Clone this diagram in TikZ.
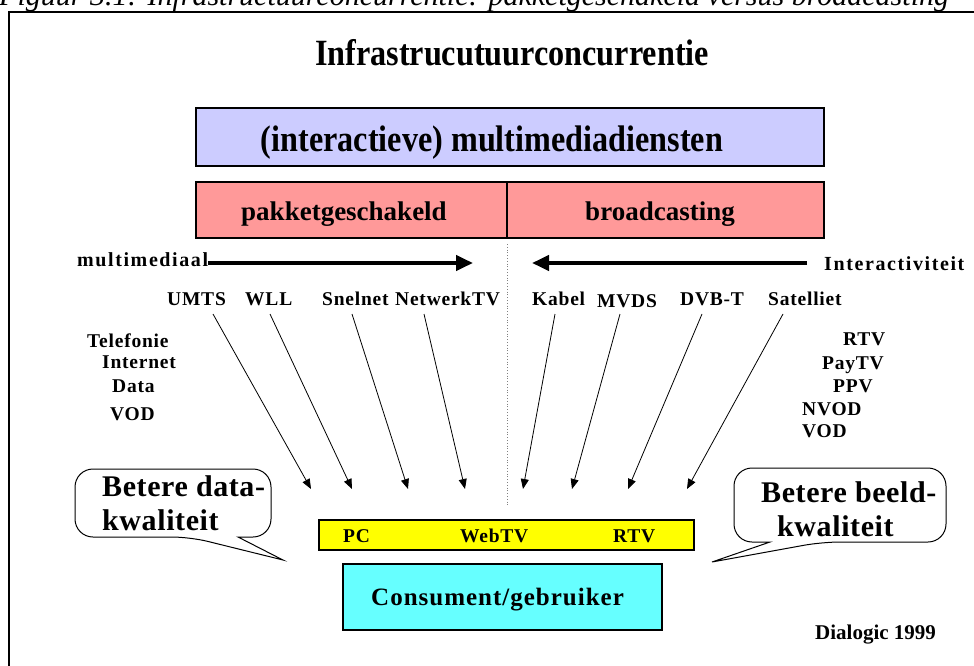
\documentclass[tikz,border=0pt]{standalone}
\usepackage{fontspec}
\setmainfont{Liberation Serif}
\newfontfamily\ruimfont[LetterSpace=4]{Liberation Serif}
\newfontfamily\breedfont[LetterSpace=8]{Liberation Serif}
\newfontfamily\ballonfont[LetterSpace=2]{Liberation Serif}
\usetikzlibrary{arrows.meta}
\definecolor{dienstblauw}{HTML}{CCCCFF}
\definecolor{netrood}{HTML}{FF9999}
\definecolor{apparaatgeel}{HTML}{FFFF00}
\definecolor{gebruikercyaan}{HTML}{66FFFF}
\tikzset{
  tekst/.style={inner sep=0pt, anchor=base west},
  label/.style={tekst, font=\ruimfont\bfseries\fontsize{19.5}{21}\selectfont},
  ballontekst/.style={tekst, font=\ballonfont\bfseries\fontsize{30}{32}\selectfont},
  blok/.style={draw, line width=1.2pt},
  dik/.style={line width=4pt, -{Triangle[length=17pt,width=15pt]}},
  dun/.style={line width=0.8pt, -{Triangle[length=10pt,width=8pt]}},
  ballon/.style={draw, fill=white, line width=1pt},
}
\begin{document}
\begin{tikzpicture}[x=1pt, y=-1pt]
    \useasboundingbox (0,0) rectangle (974,666);
    \begin{scope}
    \clip (0,0) rectangle (974,666);
    % kader en onderschrift
    \node[tekst, font=\itshape\fontsize{30}{32}\selectfont] (onderschrift) at (-1,6)
        {Figuur 3.1: Infrastructuurconcurrentie: pakketgeschakeld versus broadcasting};
    \draw[line width=2pt] (9,690) -- (9,12.5) -- (990,12.5);
    \end{scope}

    \node[inner sep=0pt, anchor=base, font=\bfseries\fontsize{37}{40}\selectfont] (titel) at (512,66)
        {\scalebox{0.87}[1]{Infrastrucutuurconcurrentie}};

    % diensten en netten
    \draw[blok, fill=dienstblauw] (196,108) rectangle (824,166);
    \node[inner sep=0pt, anchor=base, font=\bfseries\fontsize{37}{40}\selectfont] (diensten) at (492,151)
        {\scalebox{0.87}[1]{(interactieve) multimediadiensten}};

    \draw[blok, fill=netrood] (196,182) rectangle (507,238);
    \draw[blok, fill=netrood] (507,182) rectangle (824,238);
    \node[inner sep=0pt, anchor=base, font=\bfseries\fontsize{27}{30}\selectfont] (pakket) at (344,220) {pakketgeschakeld};
    \node[inner sep=0pt, anchor=base, font=\bfseries\fontsize{27}{30}\selectfont] (broad) at (660,220) {broadcasting};

    \draw[gray, dotted, line width=0.8pt] (507,244) -- (507,505);

    % richtingen
    \node[tekst, font=\breedfont\bfseries\fontsize{20}{22}\selectfont] (multimediaal) at (77,266) {multimediaal};
    \node[tekst, font=\breedfont\bfseries\fontsize{20}{22}\selectfont] (interactiviteit) at (824,270) {Interactiviteit};
    \coordinate (mm-punt) at (473,263);
    \coordinate (ia-start) at (807,263);
    \coordinate (ia-punt) at (532,263);
    \draw[dik] (multimediaal.east |- mm-punt) -- (mm-punt);
    \draw[dik] (ia-start) -- (ia-punt);

    % netwerken
    \node[label] (umts) at (167,305) {UMTS};
    \node[label] (wll) at (245,305) {WLL};
    \node[label] (snelnet) at (322,305) {Snelnet};
    \node[label] (netwerktv) at (395,305) {NetwerkTV};
    \node[label] (kabel) at (532,305) {Kabel};
    \node[label] (mvds) at (597,307) {MVDS};
    \node[label] (dvbt) at (680,305) {DVB-T};
    \node[label] (satelliet) at (768,305) {Satelliet};

    \foreach \n/\xa/\xb in {umts/213/311, wll/270/352, snelnet/352/408, netwerktv/424/465,
                            kabel/555/523, mvds/620/572, dvbt/702/628, satelliet/783/687} {
        \coordinate (\n-top) at (\xa,314);
        \coordinate (\n-pijl) at (\xb,489);
        \draw[dun] (\n-top) -- (\n-pijl);
    }

    % diensten links en rechts
    \node[label] (telefonie) at (87,347) {Telefonie};
    \node[label] (internet) at (102,368) {Internet};
    \node[label] (data) at (112,392) {Data};
    \node[label] (vodl) at (110,420) {VOD};

    \node[label] (rtvr) at (843,345) {RTV};
    \node[label] (paytv) at (822,369) {PayTV};
    \node[label] (ppv) at (833,392) {PPV};
    \node[label] (nvod) at (802,415) {NVOD};
    \node[label] (vodr) at (802,437) {VOD};

    % apparaten en gebruiker
    \draw[blok, fill=apparaatgeel] (319,520) rectangle (694,550);
    \node[label] (pc) at (343,542) {PC};
    \node[label] (webtv) at (460,542) {WebTV};
    \node[label] (rtv) at (613,542) {RTV};

    \draw[blok, fill=gebruikercyaan] (343,564) rectangle (662,630);
    \node[label, font=\ruimfont\bfseries\fontsize{25}{28}\selectfont] (consument) at (371,605) {Consument/gebruiker};

    % ballonnen
    \draw[ballon] (75,503) [rounded corners=18pt] -- (75,537) -- (190,537) [sharp corners] -- (283,560)
        -- (238,537) [rounded corners=18pt] -- (271,537) -- (271,469) -- (75,469) -- cycle;
    \node[ballontekst] (data1) at (102,496) {Betere data-};
    \node[ballontekst] (data2) at (102,530) {kwaliteit};

    \draw[ballon] (946,505) [rounded corners=18pt] -- (946,542) -- (822,542) [sharp corners] -- (712,562)
        -- (770,542) [rounded corners=18pt] -- (734,542) -- (734,468) -- (946,468) -- cycle;
    \node[ballontekst] (beeld1) at (761,502) {Betere beeld-};
    \node[ballontekst] (beeld2) at (777,536) {kwaliteit};

    \node[tekst, font=\bfseries\fontsize{21}{23}\selectfont] (bron) at (815,639) {Dialogic 1999};
\end{tikzpicture}
\end{document}
